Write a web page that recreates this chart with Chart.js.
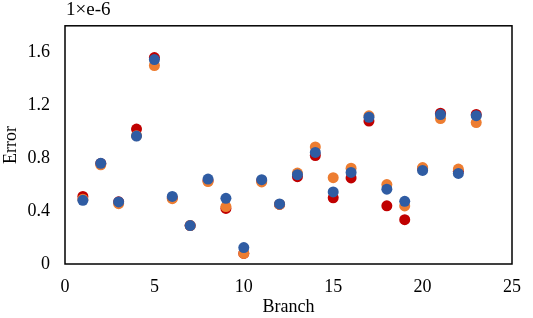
<!DOCTYPE html>
<html>
<head>
<meta charset="utf-8">
<script src="https://cdn.jsdelivr.net/npm/chart.js@4"></script>
<style>
html,body{margin:0;padding:0;background:#fff;}
canvas{display:block;}
</style>
</head>
<body>
<canvas id="c" width="533" height="318"></canvas>
<script>
const branches = [1,2,3,4,5,6,7,8,9,10,11,12,13,14,15,16,17,18,19,20,21,22,23];
const redValues = [0.51,0.76,0.47,1.02,1.56,0.50,0.29,0.63,0.42,0.08,0.63,0.45,0.66,0.82,0.50,0.65,1.08,0.44,0.335,0.72,1.14,0.70,1.13];
const orangeValues = [0.49,0.75,0.456,0.97,1.50,0.494,0.29,0.623,0.434,0.08,0.62,0.45,0.687,0.885,0.652,0.724,1.12,0.60,0.439,0.729,1.099,0.717,1.069];
const blueValues = [0.481,0.761,0.469,0.967,1.545,0.511,0.29,0.642,0.496,0.124,0.637,0.454,0.675,0.843,0.545,0.692,1.109,0.565,0.474,0.707,1.129,0.684,1.121];
const xTicks = [0,5,10,15,20,25];
const yTicks = [0,0.4,0.8,1.2,1.6];
const scaleLabel = '1×e-6';
const xTitle = 'Branch';
const yTitle = 'Error';

const toPts = vals => branches.map((b,i)=>({x:b,y:vals[i]}));
const FONT = '"Liberation Serif", "Times New Roman", serif';

const framePlugin = {
  id:'frame',
  afterDraw(chart){
    const {ctx, chartArea:a} = chart;
    ctx.save();
    ctx.strokeStyle = '#000';
    ctx.lineWidth = 1.5;
    ctx.strokeRect(a.left, a.top, a.right-a.left, a.bottom-a.top);
    ctx.fillStyle = '#000';
    ctx.font = '19px ' + FONT;
    ctx.textBaseline = 'middle';
    ctx.textAlign = 'left';
    ctx.fillText(scaleLabel, a.left + 1, 10);
    ctx.restore();
  }
};

new Chart(document.getElementById('c'), {
  type:'scatter',
  data:{
    datasets:[
      {label:'A', data:toPts(redValues), backgroundColor:'#C00000', borderWidth:0, pointRadius:5.5, order:3},
      {label:'B', data:toPts(orangeValues), backgroundColor:'#ED7D31', borderWidth:0, pointRadius:5.5, order:2},
      {label:'C', data:toPts(blueValues), backgroundColor:'#2F5CA3', borderWidth:0, pointRadius:5.5, order:1}
    ]
  },
  options:{
    responsive:false,
    animation:false,
    layout:{padding:{top:22,right:10,left:0,bottom:0}},
    plugins:{legend:{display:false}, tooltip:{enabled:false}},
    scales:{
      x:{
        type:'linear', min:0, max:25,
        afterBuildTicks(s){ s.ticks = xTicks.map(v=>({value:v})); },
        afterFit(s){ s.height = 54; },
        grid:{display:false, drawTicks:false},
        border:{display:false},
        ticks:{padding:12, color:'#000', font:{family:FONT, size:18}, callback:v=>String(v), maxRotation:0},
        title:{display:true, text:xTitle, color:'#000', font:{family:FONT, size:18}, padding:{top:0,bottom:0}}
      },
      y:{
        type:'linear', min:0, max:1.8,
        afterBuildTicks(s){ s.ticks = yTicks.map(v=>({value:v})); },
        afterFit(s){ s.width = 65; },
        grid:{display:false, drawTicks:false},
        border:{display:false},
        ticks:{padding:15, color:'#000', font:{family:FONT, size:18}, callback:v=> v===0 ? '0' : v.toFixed(1)},
        title:{display:true, text:yTitle, color:'#000', font:{family:FONT, size:18}, padding:{top:0,bottom:0}}
      }
    }
  },
  plugins:[framePlugin]
});
</script>
</body>
</html>
